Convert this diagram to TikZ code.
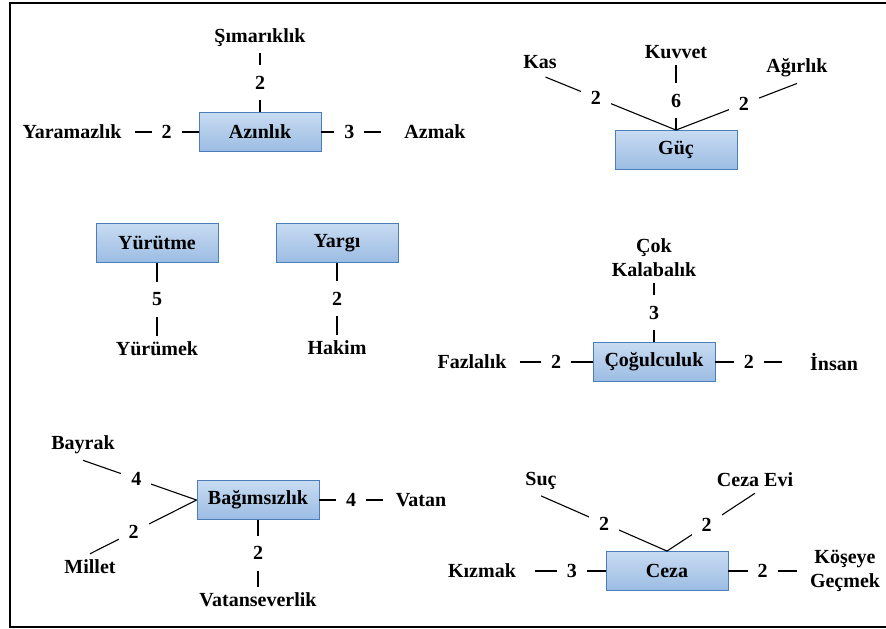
\documentclass[tikz,border=0pt]{standalone}
\usepackage{fontspec}
\setmainfont{Liberation Serif}
\definecolor{kenar}{HTML}{4A7EBB}
\definecolor{kutuust}{HTML}{C8DBF2}
\definecolor{kutualt}{HTML}{9CBCE3}
\tikzset{
    kutu/.style={draw=kenar, line width=0.9pt, top color=kutuust, bottom color=kutualt,
                 minimum width=122pt, minimum height=39pt, inner sep=0pt},
    kelime/.style={inner xsep=13pt, inner ysep=6pt, align=center},
    sayi/.style={fill=white, inner xsep=10pt, inner ysep=11pt},
    bag/.style={line width=1.1pt},
  }
\begin{document}
\begin{tikzpicture}[x=1pt,y=-1pt,font=\fontsize{20}{24}\selectfont\bfseries]
				  %cerceve
				  \useasboundingbox (0,0) rectangle (886,629);
				  \draw[line width=1.6pt] (886,3) -- (10,3) -- (10,627) -- (886,627);

				  %Azinlik
				  \node[kutu] (azinlik) at (260,132) {Azınlık};
				  \node[kelime] (simariklik) at (260,38) {Şımarıklık};
				  \node[kelime] (yaramazlik) at (72,132) {Yaramazlık};
				  \node[kelime] (azmak) at (435,132) {Azmak};
				  \draw[bag] (simariklik) -- node[sayi]{2} (azinlik);
				  \draw[bag] (yaramazlik) -- node[sayi]{2} (azinlik);
				  \draw[bag,shorten >=10pt] (azinlik) -- node[sayi,pos=0.4]{3} (azmak);

				  %Guc
				  \node[kutu] (guc) at (676,150) {Güç};
				  \node[kelime] (kas) at (540,62) {Kas};
				  \node[kelime] (kuvvet) at (676,52) {Kuvvet};
				  \node[kelime] (agirlik) at (797,68) {Ağırlık};
				  \draw[bag,shorten <=6pt] (kas.south) -- node[sayi,pos=0.41]{2} (guc.north);
				  \draw[bag] (kuvvet) -- node[sayi,pos=0.55]{6} (guc);
				  \draw[bag] (agirlik.south) -- node[sayi,pos=0.44]{2} (guc.north);

				  %Yurutme, Yargi
				  \node[kutu] (yurutme) at (157,243) {Yürütme};
				  \node[kelime] (yurumek) at (157,349) {Yürümek};
				  \draw[bag] (yurutme) -- node[sayi]{5} (yurumek);
				  \node[kutu] (yargi) at (337,243) {Yargı};
				  \node[kelime] (hakim) at (337,348) {Hakim};
				  \draw[bag] (yargi) -- node[sayi]{2} (hakim);

				  %Cogulculuk
				  \node[kutu] (cogulculuk) at (654,362) {Çoğulculuk};
				  \node[kelime] (cokkalabalik) at (654,258) {Çok\\Kalabalık};
				  \node[kelime] (fazlalik) at (472,362) {Fazlalık};
				  \node[kelime] (insan) at (834,362) {İnsan};
				  \draw[bag] (cokkalabalik) -- node[sayi]{3} (cogulculuk);
				  \draw[bag] (fazlalik) -- node[sayi]{2} (cogulculuk);
				  \draw[bag,shorten >=15pt] (cogulculuk) -- node[sayi,pos=0.41]{2} (insan);

				  %Bagimsizlik
				  \node[kutu] (bagimsizlik) at (258,500) {Bağımsızlık};
				  \node[kelime] (bayrak) at (83,445) {Bayrak};
				  \node[kelime] (millet) at (90,567) {Millet};
				  \node[kelime] (vatan) at (421,500) {Vatan};
				  \node[kelime] (vatanseverlik) at (258,600) {Vatanseverlik};
				  \draw[bag] (bayrak.south) -- node[sayi,pos=0.47]{4} (bagimsizlik.west);
				  \draw[bag] (millet.north) -- node[sayi,pos=0.41]{2} (bagimsizlik.west);
				  \draw[bag] (bagimsizlik) -- node[sayi]{4} (vatan);
				  \draw[bag] (bagimsizlik) -- node[sayi]{2} (vatanseverlik);

				  %Ceza
				  \node[kutu] (ceza) at (667,571) {Ceza};
				  \node[kelime] (suc) at (541,481) {Suç};
				  \node[kelime] (cezaevi) at (755,480) {Ceza Evi};
				  \node[kelime] (kizmak) at (482,571) {Kızmak};
				  \node[kelime] (koseye) at (845,571) {Köşeye\\Geçmek};
				  \draw[bag] (suc.south) -- node[sayi,pos=0.5]{2} (ceza.north);
				  \draw[bag] (cezaevi.south) -- node[sayi,pos=0.55]{2} (ceza.north);
				  \draw[bag,shorten <=6pt] (kizmak) -- node[sayi,pos=0.56]{3} (ceza);
				  \draw[bag] (ceza) -- node[sayi]{2} (koseye);
\end{tikzpicture}
\end{document}
